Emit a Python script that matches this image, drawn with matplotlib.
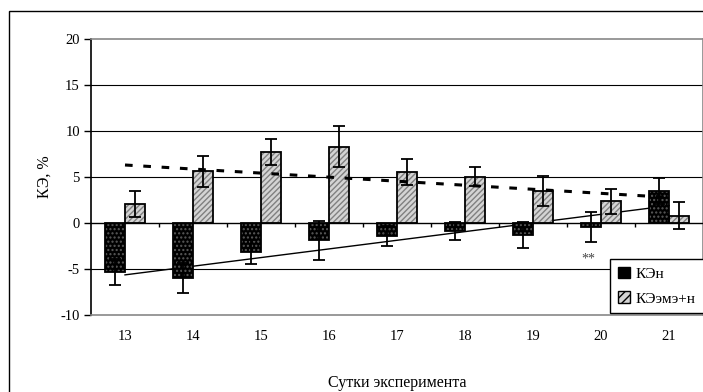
import matplotlib.pyplot as plt
import matplotlib.patches as mpatches
import numpy as np

plt.rcParams['font.family'] = ['Liberation Serif', 'DejaVu Serif']
plt.rcParams['axes.unicode_minus'] = False
plt.rcParams['hatch.linewidth'] = 1.0

days = [13, 14, 15, 16, 17, 18, 19, 20, 21]
ke_n = [-5.3, -6.0, -3.15, -1.9, -1.4, -0.85, -1.3, -0.45, 3.45]
ke_n_err = [1.4, 1.6, 1.3, 2.1, 1.1, 1.0, 1.4, 1.65, 1.4]
ke_emen = [2.05, 5.6, 7.7, 8.3, 5.55, 5.05, 3.5, 2.35, 0.8]
ke_emen_err = [1.4, 1.7, 1.4, 2.2, 1.4, 1.0, 1.6, 1.4, 1.5]
names = ["КЭн", "КЭэмэ+н"]

px = 1 / 100
fig = plt.figure(figsize=(703 * px, 392 * px), dpi=100)
fig.patches.append(mpatches.Rectangle((9 / 703, -0.1), 1.2, 1 - 11 / 392 + 0.1,
                                      transform=fig.transFigure, fill=False,
                                      edgecolor="black", linewidth=1.0))
ax = fig.add_axes([91 / 703, 1 - 315 / 392, 612 / 703, 276 / 392])

x = np.arange(len(days))
w = 0.3

# гридлайны
for yv in [-5, 5, 10, 15]:
    ax.axhline(yv, color="black", linewidth=0.8, zorder=0)

# линейные тренды
k1, b1 = np.polyfit(x, ke_n, 1)
k2, b2 = np.polyfit(x, ke_emen, 1)
ax.plot(x, k1 * x + b1, color="black", linewidth=1.0, zorder=1)

# КЭн: чёрные с серыми точками
ax.bar(x - w / 2, ke_n, w, color="black", edgecolor="#5a5a5a", hatch="....", linewidth=0, zorder=2)
ax.bar(x - w / 2, ke_n, w, fill=False, edgecolor="black", linewidth=1.3, zorder=3)
# КЭэмэ+н: серые со штриховкой
ax.bar(x + w / 2, ke_emen, w, color="#d4d4d4", edgecolor="#808080", hatch="//////", linewidth=0, zorder=2)
ax.bar(x + w / 2, ke_emen, w, fill=False, edgecolor="black", linewidth=1.3, zorder=3)

ax.errorbar(x - w / 2, ke_n, yerr=ke_n_err, fmt="none", ecolor="black",
            elinewidth=1.3, capsize=4, capthick=1.3, zorder=4)
ax.errorbar(x + w / 2, ke_emen, yerr=ke_emen_err, fmt="none", ecolor="black",
            elinewidth=1.3, capsize=4, capthick=1.3, zorder=4)

ax.plot(x, k2 * x + b2, color="black", linewidth=2.2, linestyle=(0, (2.5, 3.5)), zorder=5)

# ось категорий на нуле
ax.axhline(0, color="black", linewidth=1.0, zorder=3)
bounds = np.arange(len(days) + 1) - 0.5
ax.vlines(bounds[1:-1], -0.45, 0, color="black", linewidth=1.0, zorder=3)

ax.text(x[7] - 0.18, -3.9, "**", ha="center", va="center", fontsize=10, color="#444444")

ax.set_xlim(-0.5, len(days) - 0.5)
ax.set_ylim(-10, 20)
ax.set_yticks([-10, -5, 0, 5, 10, 15, 20])
ax.set_xticks(x)
ax.set_xticklabels([str(d) for d in days])
ax.tick_params(axis="x", length=0, pad=11, labelsize=10.5)
ax.tick_params(axis="y", length=5, width=1.0, pad=3, labelsize=10.5)

for s in ["top", "right", "bottom"]:
    ax.spines[s].set_color("#888888")
    ax.spines[s].set_linewidth(1.2)
ax.spines["left"].set_color("black")
ax.spines["left"].set_linewidth(1.2)

ax.set_ylabel("КЭ, %", fontsize=11.5, labelpad=6)
ax.set_xlabel("Сутки эксперимента", fontsize=11.5, labelpad=23)

h1 = mpatches.Patch(facecolor="black", edgecolor="black", hatch="...")
h2 = mpatches.Patch(facecolor="#d4d4d4", edgecolor="black", hatch="////")
leg = ax.legend([h1, h2], names, loc="upper left", bbox_to_anchor=(0.848, 0.203),
                fontsize=11, frameon=True, fancybox=False, framealpha=1,
                edgecolor="black", handlelength=0.8, handleheight=0.8,
                handletextpad=0.4, borderpad=0.5, labelspacing=0.7, borderaxespad=0)
leg.get_frame().set_linewidth(1.0)
leg.set_zorder(10)

fig.savefig("out.png", dpi=100)
